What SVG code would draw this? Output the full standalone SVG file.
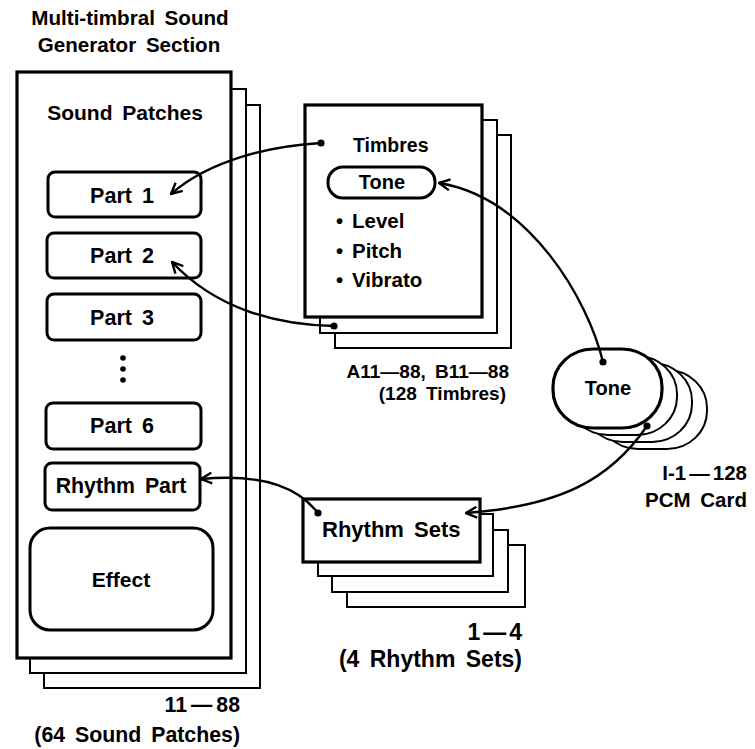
<svg xmlns="http://www.w3.org/2000/svg" width="755" height="749" viewBox="0 0 755 749">
<style>
text{font-family:"Liberation Sans",Arial,sans-serif;font-weight:bold;fill:#000;word-spacing:4px}
.m{text-anchor:middle}
.e{text-anchor:end}
.back{fill:#fff;stroke:#000;stroke-width:2}
.front{fill:#fff;stroke:#000;stroke-width:3.2}
.part{fill:#fff;stroke:#000;stroke-width:3}
.conn{fill:none;stroke:#000;stroke-width:2.4}
</style>
<defs>
<marker id="arr" viewBox="0 0 12 12" refX="11" refY="6" markerWidth="13" markerHeight="13" markerUnits="userSpaceOnUse" orient="auto">
<path d="M1,1 L11,6 L1,11" fill="none" stroke="#000" stroke-width="2.2"/>
</marker>
</defs>
<rect width="755" height="749" fill="#fff"/>

<g id="sound-generator">
<text class="m" font-size="20.6" x="130" y="25">Multi-timbral Sound</text>
<text class="m" font-size="20.6" x="129" y="52">Generator Section</text>
<rect class="back" x="44" y="105" width="216" height="583"/>
<rect class="back" x="30" y="89" width="216" height="584"/>
<rect class="front" x="17" y="72" width="214" height="586"/>
<text class="m" font-size="21" x="125" y="120">Sound Patches</text>
<text class="e" font-size="21.3" x="240" y="712">11<tspan dx="4">—</tspan><tspan dx="4">88</tspan></text>
<text class="e" font-size="21.3" x="240" y="742">(64 Sound Patches)</text>
</g>

<g id="part1"><rect class="part" x="48" y="172" width="153" height="45" rx="7"/><text class="m" font-size="21.5" x="122" y="203">Part 1</text></g>
<g id="part2"><rect class="part" x="47" y="233" width="154" height="45" rx="7"/><text class="m" font-size="21.5" x="122" y="263">Part 2</text></g>
<g id="part3"><rect class="part" x="47" y="294" width="154" height="46" rx="7"/><text class="m" font-size="21.5" x="122" y="325">Part 3</text></g>
<g id="dots"><circle cx="123" cy="358" r="2.8"/><circle cx="123" cy="369" r="2.8"/><circle cx="123" cy="380" r="2.8"/></g>
<g id="part6"><rect class="part" x="46" y="403" width="155" height="46" rx="7"/><text class="m" font-size="21.5" x="122" y="433">Part 6</text></g>
<g id="rhythm-part"><rect class="part" x="45" y="463" width="155" height="47" rx="7"/><text class="m" font-size="21.3" x="121" y="493">Rhythm Part</text></g>
<g id="effect"><rect class="part" x="30" y="528" width="183" height="102" rx="20"/><text class="m" font-size="21" x="121" y="587">Effect</text></g>

<g id="timbres">
<rect class="back" x="335" y="135" width="176" height="213"/>
<rect class="back" x="320" y="120" width="177" height="213"/>
<rect class="front" x="305" y="105" width="177" height="212"/>
<text font-size="19.5" x="353" y="152">Timbres</text>
<rect class="part" x="328" y="167" width="107" height="31" rx="15" stroke-width="3.5"/>
<text class="m" font-size="20" x="382" y="189">Tone</text>
<text font-size="20.5" x="336" y="228">•<tspan x="352">Level</tspan></text>
<text font-size="20.5" x="336" y="258">•<tspan x="352">Pitch</tspan></text>
<text font-size="20.5" x="336" y="287">•<tspan x="352">Vibrato</tspan></text>
<text class="e" font-size="19" x="509" y="378">A11—88, B11—88</text>
<text class="e" font-size="19" x="506" y="400">(128 Timbres)</text>
</g>

<g id="pcm-tones">
<rect class="back" x="598" y="370" width="109" height="79" rx="40" ry="38"/>
<rect class="back" x="583" y="363" width="109" height="79" rx="40" ry="38"/>
<rect class="back" x="568" y="356" width="109" height="79" rx="40" ry="38"/>
<rect class="front" x="553" y="349" width="109" height="79" rx="40" ry="38" stroke-width="3.5"/>
<text class="m" font-size="20" x="608" y="395">Tone</text>
<text class="e" font-size="20.5" x="747" y="480">I-1<tspan dx="3">—</tspan><tspan dx="3">128</tspan></text>
<text class="e" font-size="20.5" x="747" y="507">PCM Card</text>
</g>

<g id="rhythm-sets">
<rect class="back" x="347" y="545" width="178" height="62"/>
<rect class="back" x="332" y="530" width="176" height="62"/>
<rect class="back" x="318" y="514" width="175" height="62"/>
<rect class="front" x="303" y="499" width="177" height="63" stroke-width="3.5"/>
<text font-size="22" x="322" y="537">Rhythm Sets</text>
<text class="e" font-size="23" x="522" y="640">1<tspan dx="3">—</tspan><tspan dx="3">4</tspan></text>
<text class="e" font-size="23" x="522" y="667">(4 Rhythm Sets)</text>
</g>

<g id="connectors">
<path class="conn" d="M321,143 C270,146 210,160 171,194" marker-end="url(#arr)"/>
<circle cx="321" cy="143" r="3.6"/>
<path class="conn" d="M334,326 C275,325 215,308 172,262" marker-end="url(#arr)"/>
<circle cx="334" cy="326" r="3.6"/>
<path class="conn" d="M603,362 C588,300 530,198 439,183" marker-end="url(#arr)"/>
<circle cx="603" cy="362" r="3.6"/>
<path class="conn" d="M647,426 C610,480 560,506 466,513" marker-end="url(#arr)"/>
<circle cx="647" cy="426" r="3.6"/>
<path class="conn" d="M318,513 C300,490 268,473 201,479" marker-end="url(#arr)"/>
<circle cx="318" cy="513" r="3.6"/>
</g>
</svg>
